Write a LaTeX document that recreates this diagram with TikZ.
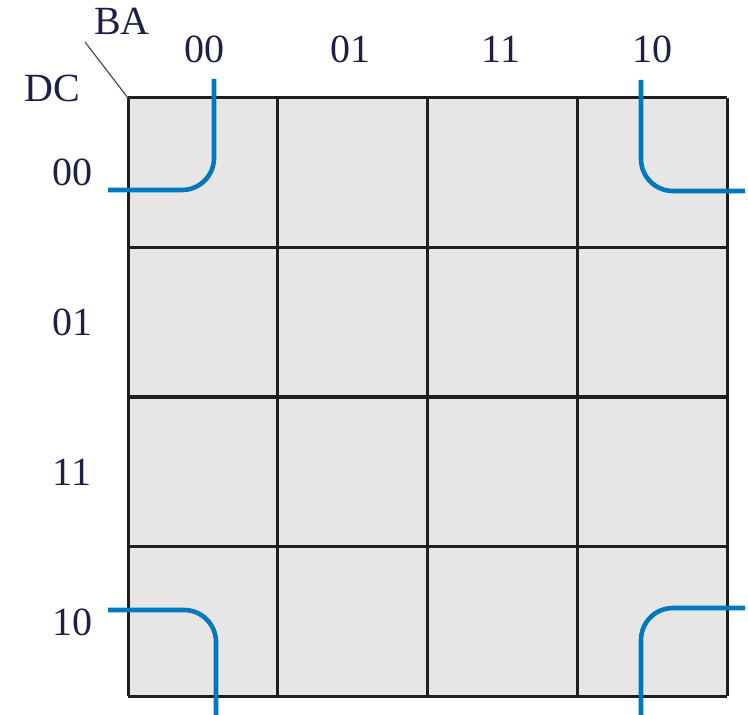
\documentclass[tikz,border=0pt]{standalone}
\usepackage{fontspec}
\setmainfont{Liberation Serif}
\definecolor{mapfill}{RGB}{230,230,230}
\definecolor{loopblue}{RGB}{0,120,187}
\definecolor{labelink}{RGB}{28,32,70}
\begin{document}
\begin{tikzpicture}[x=0.5pt, y=-0.5pt,
  every node/.style={font=\fontsize{20}{24}\selectfont, text=labelink, inner sep=0pt},
  gridline/.style={line width=1.5pt, black!88},
  loopline/.style={line width=2.3pt, loopblue, rounded corners=16pt}]
\useasboundingbox (0,0) rectangle (748,715);
% map cells
\fill[mapfill] (128,98) rectangle (727,696);
\foreach \k in {0,...,4} {
  \draw[gridline] (128+149.75*\k,98) -- (128+149.75*\k,696);
  \draw[gridline] (128,98+149.5*\k) -- (727,98+149.5*\k);
}
% variable labels
\coordinate (corner) at (128,98);
\coordinate (slash) at (85,42);
\draw[black!70, line width=0.6pt] (slash) -- (corner);
\node (ba) at (122,21) {BA};
\node (dc) at (52,88) {DC};
\node (c00) at (204,49) {00};
\node (c01) at (350,49) {01};
\node (c11) at (501,49) {11};
\node (c10) at (652,49) {10};
\node (r00) at (72,172) {00};
\node (r01) at (72,322) {01};
\node (r11) at (72,472) {11};
\node (r10) at (72,622) {10};
% corner groups
\coordinate (tla) at (214,79);  \coordinate (tlb) at (214,190); \coordinate (tlc) at (108,190);
\coordinate (tra) at (641,80);  \coordinate (trb) at (641,191); \coordinate (trc) at (745,191);
\coordinate (bla) at (108,610); \coordinate (blb) at (216,610); \coordinate (blc) at (216,715);
\coordinate (bra) at (745,608); \coordinate (brb) at (641,608); \coordinate (brc) at (641,715);
\draw[loopline] (tla) -- (tlb) -- (tlc);
\draw[loopline] (tra) -- (trb) -- (trc);
\draw[loopline] (bla) -- (blb) -- (blc);
\draw[loopline] (bra) -- (brb) -- (brc);
\end{tikzpicture}
\end{document}
